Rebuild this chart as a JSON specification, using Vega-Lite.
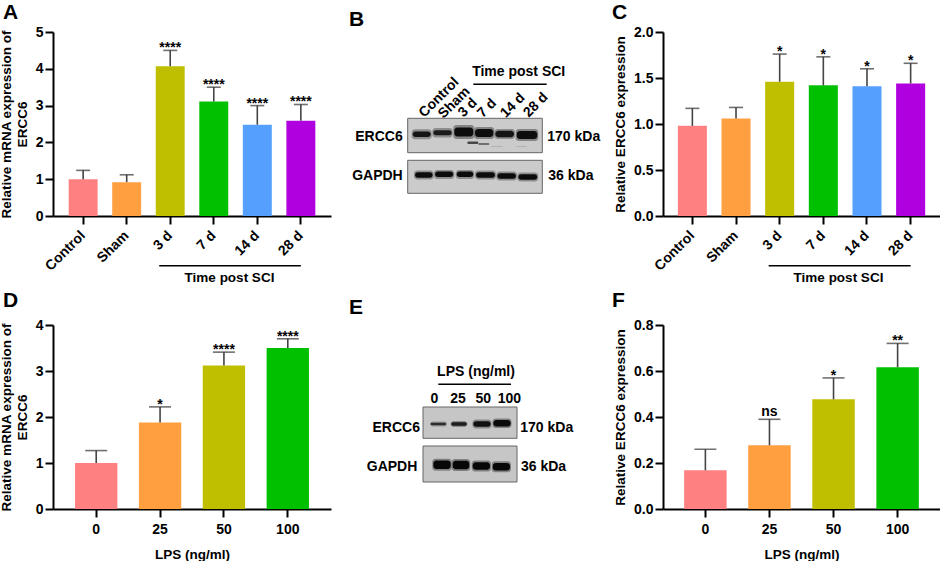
{"$schema":"https://vega.github.io/schema/vega-lite/v6.json","background":"white","padding":{"left":-1,"top":2,"right":0,"bottom":0},"bounds":"flush","columns":3,"spacing":{"row":109,"column":0},
"config":{"view":{"stroke":null},"font":"Liberation Sans","title":{"font":"Liberation Sans","fontSize":21,"fontWeight":"bold","anchor":"start","frame":"group","color":"black"},
"axis":{"labelFont":"Liberation Sans","titleFont":"Liberation Sans","labelFontWeight":"bold","titleFontWeight":"bold","labelColor":"black","titleColor":"black","labelFontSize":14,"titleFontSize":13.5,"titleLineHeight":16,"domainColor":"black","tickColor":"black","domainWidth":2,"tickWidth":2,"tickSize":8,"grid":false,"labelOverlap":false}},
"datasets":{
"A":[{"group":"Control","value":1.0,"upper":1.24,"sig":""},{"group":"Sham","value":0.92,"upper":1.12,"sig":""},{"group":"3 d","value":4.07,"upper":4.5,"sig":"****"},{"group":"7 d","value":3.11,"upper":3.5,"sig":"****"},{"group":"14 d","value":2.48,"upper":3.0,"sig":"****"},{"group":"28 d","value":2.59,"upper":3.03,"sig":"****"}],
"C":[{"group":"Control","value":0.98,"upper":1.17,"sig":""},{"group":"Sham","value":1.06,"upper":1.18,"sig":""},{"group":"3 d","value":1.46,"upper":1.76,"sig":"*"},{"group":"7 d","value":1.42,"upper":1.73,"sig":"*"},{"group":"14 d","value":1.41,"upper":1.6,"sig":"*"},{"group":"28 d","value":1.44,"upper":1.66,"sig":"*"}],
"D":[{"group":"0","value":1.0,"upper":1.27,"sig":""},{"group":"25","value":1.88,"upper":2.22,"sig":"*"},{"group":"50","value":3.12,"upper":3.41,"sig":"****"},{"group":"100","value":3.5,"upper":3.7,"sig":"****"}],
"F":[{"group":"0","value":0.168,"upper":0.26,"sig":""},{"group":"25","value":0.277,"upper":0.39,"sig":"ns"},{"group":"50","value":0.477,"upper":0.57,"sig":"*"},{"group":"100","value":0.616,"upper":0.72,"sig":"**"}],
"gelB":[{"x0":76.7,"x1":211.3,"y0":86.3,"y1":120.7},{"x0":76.7,"x1":211.3,"y0":128.3,"y1":161.3}],
"gelE":[{"x0":92,"x1":186,"y0":82,"y1":113.3},{"x0":92,"x1":186,"y0":121,"y1":157}],
"bandB":[
{"x0":80.7,"x1":100.7,"y0":97.3,"y1":107.3,"i":0.3},{"x0":101.3,"x1":121.7,"y0":96,"y1":105.5,"i":0.3},{"x0":122.3,"x1":143.3,"y0":93,"y1":107,"i":0.35},{"x0":143,"x1":163.3,"y0":95,"y1":107,"i":0.35},{"x0":163.3,"x1":184,"y0":97,"y1":107,"i":0.3},{"x0":184.7,"x1":207.3,"y0":97,"y1":109,"i":0.35},
{"x0":81.7,"x1":99.7,"y0":99.5,"y1":105,"i":0.85},{"x0":102.3,"x1":120.7,"y0":98.2,"y1":103.2,"i":0.8},{"x0":123.3,"x1":142.3,"y0":95.5,"y1":104.5,"i":0.9},{"x0":144,"x1":162.3,"y0":97,"y1":105,"i":0.9},{"x0":164.3,"x1":183,"y0":98.8,"y1":105.2,"i":0.85},{"x0":185.7,"x1":206.3,"y0":99,"y1":107,"i":0.9},
{"x0":136.3,"x1":147.3,"y0":109.5,"y1":112,"i":0.65},{"x0":147.3,"x1":158.3,"y0":111,"y1":113,"i":0.45},{"x0":160,"x1":172,"y0":114,"y1":115,"i":0.12},{"x0":185,"x1":196,"y0":114,"y1":115,"i":0.12},
{"x0":83,"x1":102.7,"y0":138.5,"y1":147.5,"i":0.3},{"x0":103,"x1":123.3,"y0":138,"y1":147,"i":0.3},{"x0":124.7,"x1":143.3,"y0":138,"y1":147,"i":0.3},{"x0":144,"x1":165,"y0":138.5,"y1":147.5,"i":0.3},{"x0":165.3,"x1":186,"y0":139.5,"y1":148.5,"i":0.3},{"x0":186.3,"x1":207.3,"y0":140.5,"y1":149.5,"i":0.3},
{"x0":84,"x1":101.7,"y0":140.2,"y1":145.8,"i":0.92},{"x0":104,"x1":122.3,"y0":139.5,"y1":145.1,"i":0.92},{"x0":125.7,"x1":142.3,"y0":139.5,"y1":145.1,"i":0.92},{"x0":145,"x1":164,"y0":140.2,"y1":145.8,"i":0.92},{"x0":166.3,"x1":185,"y0":141.2,"y1":146.8,"i":0.92},{"x0":187.3,"x1":206.3,"y0":142.2,"y1":147.8,"i":0.92}],
"bandE":[
{"x0":99,"x1":116,"y0":96.5,"y1":101.5,"i":0.25},{"x0":119.5,"x1":136.5,"y0":96,"y1":102,"i":0.3},{"x0":141.5,"x1":160.5,"y0":94.5,"y1":103.5,"i":0.3},{"x0":161.5,"x1":180.5,"y0":93.5,"y1":103,"i":0.35},
{"x0":99.7,"x1":115,"y0":97.8,"y1":100.2,"i":0.7},{"x0":120.3,"x1":135.7,"y0":97.3,"y1":100.7,"i":0.8},{"x0":142.3,"x1":159.7,"y0":96.2,"y1":101.8,"i":0.88},{"x0":162.3,"x1":179.7,"y0":95,"y1":101.5,"i":0.92},
{"x0":101.3,"x1":120.7,"y0":133.7,"y1":145.7,"i":0.35},{"x0":120.7,"x1":139.3,"y0":134,"y1":146,"i":0.35},{"x0":140.7,"x1":160,"y0":135.5,"y1":146.5,"i":0.35},{"x0":160.7,"x1":180,"y0":136.2,"y1":147.2,"i":0.35},
{"x0":102.3,"x1":119.7,"y0":135.5,"y1":144,"i":0.95},{"x0":121.7,"x1":138.3,"y0":135.8,"y1":144.2,"i":0.95},{"x0":141.7,"x1":159,"y0":137.2,"y1":144.8,"i":0.95},{"x0":161.7,"x1":179,"y0":138,"y1":145.4,"i":0.95}]
},
"concat":[
{"width":278,"height":184,"title":{"text":"A","dx":-50,"offset":2},"data":{"name":"A"},"encoding":{"x":{"field":"group","type":"nominal","sort":["Control","Sham","3 d","7 d","14 d","28 d"],"scale":{"domain":["Control","Sham","3 d","7 d","14 d","28 d"],"paddingInner":0.335,"paddingOuter":0.36},"axis":{"labelAngle":-45,"labelAlign":"right","labelBaseline":"middle","labelPadding":9,"title":"Time post SCI","titleX":176,"titleY":54}},"y":{"field":"value","type":"quantitative","scale":{"domain":[0,5],"nice":false},"axis":{"values":[0,1,2,3,4,5],"title":["Relative mRNA expression of","ERCC6"],"titlePadding":6}}},"layer":[
{"mark":{"type":"bar"},"encoding":{"color":{"field":"group","type":"nominal","legend":null,"scale":{"domain":["Control","Sham","3 d","7 d","14 d","28 d"],"range":["#FF8080","#FF9F40","#BFBF00","#00C000","#55A0FF","#B000E0"]}}}},
{"mark":{"type":"rule","color":"#444","strokeWidth":1.6},"encoding":{"y2":{"field":"upper"}}},
{"transform":[{"fold":["upper"],"as":["k","value"]}],"layer":[{"mark":{"type":"tick","color":"#333","thickness":1.6,"size":14}},{"mark":{"type":"text","font":"Liberation Sans","fontWeight":"bold","fontSize":14,"dy":2,"baseline":"alphabetic","color":"black"},"encoding":{"text":{"field":"sig"}}}]},
{"data":{"values":[{"group":"3 d","to":"28 d","value":-1.35}]},"mark":{"type":"rule","color":"black","strokeWidth":1.5,"xOffset":-11},"encoding":{"x2":{"field":"to"}}}
]},
{"width":332,"height":184,"title":{"text":"B","dx":18,"offset":2},"layer":[
{"data":{"name":"gelB"},"mark":{"type":"rect","fill":"#CBCBCB","stroke":"#666","strokeWidth":1},"encoding":{"x":{"field":"x0","type":"quantitative","scale":{"domain":[0,332],"nice":false},"axis":null},"x2":{"field":"x1"},"y":{"field":"y0","type":"quantitative","scale":{"domain":[0,184],"nice":false,"reverse":true},"axis":null},"y2":{"field":"y1"}}},
{"data":{"name":"bandB"},"mark":{"type":"rect","color":"black","cornerRadius":3},"encoding":{"x":{"field":"x0","type":"quantitative"},"x2":{"field":"x1"},"y":{"field":"y0","type":"quantitative"},"y2":{"field":"y1"},"opacity":{"field":"i","type":"quantitative","legend":null,"scale":{"domain":[0,1],"range":[0,1]}}}},
{"data":{"values":[{"x0":142.3,"x1":215.7,"y":52.3}]},"mark":{"type":"rule","color":"black","strokeWidth":1.5},"encoding":{"x":{"field":"x0","type":"quantitative"},"x2":{"field":"x1"},"y":{"field":"y","type":"quantitative"}}},
{"data":{"values":[{"t":"ERCC6","x":71.7,"y":104.7},{"t":"GAPDH","x":71.7,"y":143.7}]},"mark":{"type":"text","align":"right","baseline":"middle","font":"Liberation Sans","fontWeight":"bold","fontSize":14,"color":"black"},"encoding":{"x":{"field":"x","type":"quantitative"},"y":{"field":"y","type":"quantitative"},"text":{"field":"t"}}},
{"data":{"values":[{"t":"170 kDa","x":216.3,"y":105.3},{"t":"36 kDa","x":217.3,"y":143.7}]},"mark":{"type":"text","align":"left","baseline":"middle","font":"Liberation Sans","fontWeight":"bold","fontSize":14,"color":"black"},"encoding":{"x":{"field":"x","type":"quantitative"},"y":{"field":"y","type":"quantitative"},"text":{"field":"t"}}},
{"data":{"values":[{"t":"Time post SCI","x":187.7,"y":39.7}]},"mark":{"type":"text","align":"center","baseline":"middle","font":"Liberation Sans","fontWeight":"bold","fontSize":14,"color":"black"},"encoding":{"x":{"field":"x","type":"quantitative"},"y":{"field":"y","type":"quantitative"},"text":{"field":"t"}}},
{"data":{"values":[{"t":"Control","x":125.7,"y":48},{"t":"Sham","x":136.7,"y":57.3},{"t":"3 d","x":144,"y":68.7},{"t":"7 d","x":163.3,"y":69},{"t":"14 d","x":191.7,"y":63.7},{"t":"28 d","x":214.7,"y":63}]},"mark":{"type":"text","align":"right","baseline":"middle","angle":315,"font":"Liberation Sans","fontWeight":"bold","fontSize":14,"color":"black"},"encoding":{"x":{"field":"x","type":"quantitative"},"y":{"field":"y","type":"quantitative"},"text":{"field":"t"}}}
]},
{"width":277,"height":184,"title":{"text":"C","dx":-51,"offset":2},"data":{"name":"C"},"encoding":{"x":{"field":"group","type":"nominal","sort":["Control","Sham","3 d","7 d","14 d","28 d"],"scale":{"domain":["Control","Sham","3 d","7 d","14 d","28 d"],"paddingInner":0.335,"paddingOuter":0.34},"axis":{"labelAngle":-45,"labelAlign":"right","labelBaseline":"middle","labelPadding":9,"title":"Time post SCI","titleX":175,"titleY":54}},"y":{"field":"value","type":"quantitative","scale":{"domain":[0,2],"nice":false},"axis":{"values":[0,0.5,1,1.5,2],"format":".1f","title":"Relative ERCC6 expression","titlePadding":6}}},"layer":[
{"mark":{"type":"bar"},"encoding":{"color":{"field":"group","type":"nominal","legend":null,"scale":{"domain":["Control","Sham","3 d","7 d","14 d","28 d"],"range":["#FF8080","#FF9F40","#BFBF00","#00C000","#55A0FF","#B000E0"]}}}},
{"mark":{"type":"rule","color":"#444","strokeWidth":1.6},"encoding":{"y2":{"field":"upper"}}},
{"transform":[{"fold":["upper"],"as":["k","value"]}],"layer":[{"mark":{"type":"tick","color":"#333","thickness":1.6,"size":14}},{"mark":{"type":"text","font":"Liberation Sans","fontWeight":"bold","fontSize":14,"dy":2,"baseline":"alphabetic","color":"black"},"encoding":{"text":{"field":"sig"}}}]},
{"data":{"values":[{"group":"3 d","to":"28 d","value":-0.54}]},"mark":{"type":"rule","color":"black","strokeWidth":1.5,"xOffset":-11},"encoding":{"x2":{"field":"to"}}}
]},
{"width":278,"height":184,"title":{"text":"D","dx":-50,"offset":7},"data":{"name":"D"},"encoding":{"x":{"field":"group","type":"nominal","sort":["0","25","50","100"],"scale":{"domain":["0","25","50","100"],"paddingInner":0.337,"paddingOuter":0.345},"axis":{"labelAngle":0,"labelPadding":5,"title":"LPS (ng/ml)","titlePadding":11}},"y":{"field":"value","type":"quantitative","scale":{"domain":[0,4],"nice":false},"axis":{"values":[0,1,2,3,4],"title":["Relative mRNA expression of","ERCC6"],"titlePadding":6}}},"layer":[
{"mark":{"type":"bar"},"encoding":{"color":{"field":"group","type":"nominal","legend":null,"scale":{"domain":["0","25","50","100"],"range":["#FF8080","#FF9F40","#BFBF00","#00C000"]}}}},
{"mark":{"type":"rule","color":"#444","strokeWidth":1.6},"encoding":{"y2":{"field":"upper"}}},
{"transform":[{"fold":["upper"],"as":["k","value"]}],"layer":[{"mark":{"type":"tick","color":"#333","thickness":1.6,"size":22}},{"mark":{"type":"text","font":"Liberation Sans","fontWeight":"bold","fontSize":14,"dy":2,"baseline":"alphabetic","color":"black"},"encoding":{"text":{"field":"sig"}}}]}
]},
{"width":332,"height":184,"title":{"text":"E","dx":18,"offset":7},"layer":[
{"data":{"name":"gelE"},"mark":{"type":"rect","fill":"#C6C6C6","stroke":"#666","strokeWidth":1},"encoding":{"x":{"field":"x0","type":"quantitative","scale":{"domain":[0,332],"nice":false},"axis":null},"x2":{"field":"x1"},"y":{"field":"y0","type":"quantitative","scale":{"domain":[0,184],"nice":false,"reverse":true},"axis":null},"y2":{"field":"y1"}}},
{"data":{"name":"bandE"},"mark":{"type":"rect","color":"black","cornerRadius":3},"encoding":{"x":{"field":"x0","type":"quantitative"},"x2":{"field":"x1"},"y":{"field":"y0","type":"quantitative"},"y2":{"field":"y1"},"opacity":{"field":"i","type":"quantitative","legend":null,"scale":{"domain":[0,1],"range":[0,1]}}}},
{"data":{"values":[{"x0":107.3,"x1":180,"y":59.3}]},"mark":{"type":"rule","color":"black","strokeWidth":1.5},"encoding":{"x":{"field":"x0","type":"quantitative"},"x2":{"field":"x1"},"y":{"field":"y","type":"quantitative"}}},
{"data":{"values":[{"t":"ERCC6","x":89,"y":103.3},{"t":"GAPDH","x":86.3,"y":141.7}]},"mark":{"type":"text","align":"right","baseline":"middle","font":"Liberation Sans","fontWeight":"bold","fontSize":14,"color":"black"},"encoding":{"x":{"field":"x","type":"quantitative"},"y":{"field":"y","type":"quantitative"},"text":{"field":"t"}}},
{"data":{"values":[{"t":"170 kDa","x":189.3,"y":103.3},{"t":"36 kDa","x":190,"y":141.7}]},"mark":{"type":"text","align":"left","baseline":"middle","font":"Liberation Sans","fontWeight":"bold","fontSize":14,"color":"black"},"encoding":{"x":{"field":"x","type":"quantitative"},"y":{"field":"y","type":"quantitative"},"text":{"field":"t"}}},
{"data":{"values":[{"t":"LPS (ng/ml)","x":145,"y":46.7},{"t":"0","x":103.3,"y":74},{"t":"25","x":127,"y":74},{"t":"50","x":152.3,"y":74},{"t":"100","x":178.3,"y":74}]},"mark":{"type":"text","align":"center","baseline":"middle","font":"Liberation Sans","fontWeight":"bold","fontSize":14,"color":"black"},"encoding":{"x":{"field":"x","type":"quantitative"},"y":{"field":"y","type":"quantitative"},"text":{"field":"t"}}}
]},
{"width":277,"height":184,"title":{"text":"F","dx":-51,"offset":7},"data":{"name":"F"},"encoding":{"x":{"field":"group","type":"nominal","sort":["0","25","50","100"],"scale":{"domain":["0","25","50","100"],"paddingInner":0.337,"paddingOuter":0.33},"axis":{"labelAngle":0,"labelPadding":5,"title":"LPS (ng/ml)","titlePadding":11}},"y":{"field":"value","type":"quantitative","scale":{"domain":[0,0.8],"nice":false},"axis":{"values":[0,0.2,0.4,0.6,0.8],"format":".1f","title":"Relative ERCC6 expression","titlePadding":6}}},"layer":[
{"mark":{"type":"bar"},"encoding":{"color":{"field":"group","type":"nominal","legend":null,"scale":{"domain":["0","25","50","100"],"range":["#FF8080","#FF9F40","#BFBF00","#00C000"]}}}},
{"mark":{"type":"rule","color":"#444","strokeWidth":1.6},"encoding":{"y2":{"field":"upper"}}},
{"transform":[{"fold":["upper"],"as":["k","value"]}],"layer":[{"mark":{"type":"tick","color":"#333","thickness":1.6,"size":22}},{"transform":[{"filter":"datum.sig != 'ns'"}],"mark":{"type":"text","font":"Liberation Sans","fontWeight":"bold","fontSize":14,"dy":2,"baseline":"alphabetic","color":"black"},"encoding":{"text":{"field":"sig"}}},{"transform":[{"filter":"datum.sig == 'ns'"}],"mark":{"type":"text","font":"Liberation Sans","fontWeight":"bold","fontSize":14,"dy":-3,"baseline":"alphabetic","color":"black"},"encoding":{"text":{"field":"sig"}}}]}
]}
]}
